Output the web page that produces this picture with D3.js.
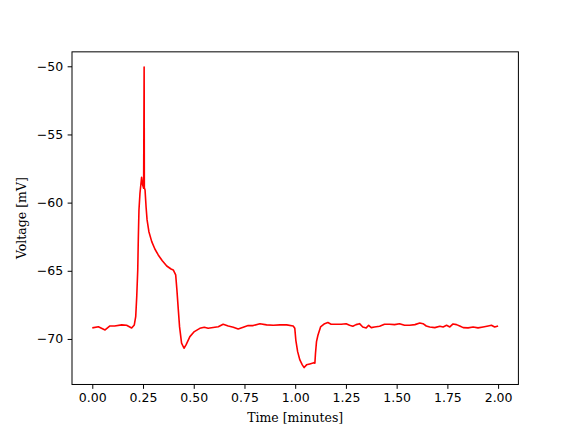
<!DOCTYPE html>
<html>
<head>
<meta charset="utf-8">
<script src="https://cdn.jsdelivr.net/npm/d3@7"></script>
<style>
  html, body { margin: 0; padding: 0; background: #fff; }
  svg { display: block; }
</style>
</head>
<body>
<svg id="chart" width="576" height="432"></svg>
<script>
// Time (minutes) and membrane voltage (mV)
const timeMin = [
  0.000, 0.030, 0.063, 0.087, 0.110, 0.145, 0.169, 0.194, 0.207, 0.214,
  0.219, 0.224, 0.227, 0.230, 0.235, 0.240, 0.243, 0.248, 0.253, 0.2555,
  0.2565, 0.260, 0.265, 0.270, 0.279, 0.293, 0.309, 0.325, 0.345, 0.367,
  0.388, 0.399, 0.411, 0.417, 0.424, 0.430, 0.440, 0.452, 0.462, 0.481,
  0.503, 0.530, 0.552, 0.571, 0.604, 0.621, 0.645, 0.670, 0.695, 0.719,
  0.744, 0.768, 0.793, 0.826, 0.859, 0.892, 0.925, 0.958, 0.990, 0.998,
  1.003, 1.012, 1.023, 1.035, 1.044, 1.056, 1.072, 1.092, 1.097, 1.100,
  1.105, 1.112, 1.125, 1.145, 1.161, 1.177, 1.202, 1.227, 1.251, 1.268,
  1.284, 1.300, 1.317, 1.333, 1.350, 1.362, 1.375, 1.391, 1.416, 1.440,
  1.465, 1.490, 1.514, 1.539, 1.564, 1.590, 1.614, 1.630, 1.646, 1.663,
  1.688, 1.713, 1.729, 1.746, 1.762, 1.778, 1.795, 1.811, 1.828, 1.852,
  1.877, 1.901, 1.926, 1.951, 1.967, 1.983, 2.000
];
const voltageMV = [
  -69.19, -69.10, -69.34, -69.05, -69.05, -68.97, -69.00, -69.20, -68.97, -68.36,
  -66.90, -64.94, -62.50, -60.54, -59.31, -58.58, -58.14, -58.70, -58.95, -50.05,
  -58.90, -59.07, -60.30, -61.27, -62.13, -62.86, -63.42, -63.84, -64.26, -64.65,
  -64.87, -64.94, -65.30, -66.40, -67.87, -69.10, -70.30, -70.68, -70.44, -69.83,
  -69.46, -69.22, -69.14, -69.22, -69.14, -69.10, -68.92, -69.05, -69.14, -69.27,
  -69.14, -69.02, -69.02, -68.88, -68.97, -69.00, -68.97, -68.97, -69.05, -69.22,
  -70.08, -70.93, -71.54, -71.90, -72.10, -71.90, -71.83, -71.74, -71.78, -71.05,
  -70.20, -69.73, -69.12, -68.88, -68.80, -68.92, -68.92, -68.92, -68.88, -69.00,
  -69.07, -68.95, -68.88, -69.12, -69.19, -69.00, -69.17, -69.12, -69.07, -68.92,
  -68.92, -68.95, -68.88, -69.00, -69.00, -68.95, -68.83, -68.88, -69.05, -69.12,
  -69.17, -69.07, -69.12, -69.00, -69.12, -68.90, -68.95, -69.05, -69.17, -69.19,
  -69.12, -69.19, -69.12, -69.05, -69.00, -69.12, -69.05
];
const xTicks = [0, 0.25, 0.5, 0.75, 1.0, 1.25, 1.5, 1.75, 2.0];
const yTicks = [-70, -65, -60, -55, -50];
const xLabel = "Time [minutes]";
const yLabel = "Voltage [mV]";

(function () {
const mLeft = 72, mRight = 518.4, mTop = 51.84, mBottom = 384.48;
const fs = "12.5px";

const svg = d3.select("#chart");

const x = d3.scaleLinear().domain([-0.1, 2.1]).range([mLeft, mRight]);
const y = d3.scaleLinear().domain([-73.34, -48.94]).range([mBottom, mTop]);

const data = timeMin.map((t, i) => ({ t, v: voltageMV[i] }));

svg.append("clipPath").attr("id", "plotclip")
  .append("rect").attr("x", mLeft).attr("y", mTop)
  .attr("width", mRight - mLeft).attr("height", mBottom - mTop);

svg.append("path")
  .datum(data)
  .attr("clip-path", "url(#plotclip)")
  .attr("fill", "none")
  .attr("stroke", "#ff0000")
  .attr("stroke-width", 1.6)
  .attr("stroke-linejoin", "round")
  .attr("d", d3.line().x(d => x(d.t)).y(d => y(d.v)));

const fmtX = d3.format(".2f");
const xAxis = d3.axisBottom(x).tickValues(xTicks).tickFormat(fmtX)
  .tickSizeInner(4.375).tickSizeOuter(0).tickPadding(4.375);
const yAxis = d3.axisLeft(y).tickValues(yTicks).tickFormat(d => (d < 0 ? "\u2212" + Math.abs(d) : d))
  .tickSizeInner(4.375).tickSizeOuter(0).tickPadding(4.375);

const gx = svg.append("g").attr("transform", `translate(0,${mBottom})`).call(xAxis);
const gy = svg.append("g").attr("transform", `translate(${mLeft},0)`).call(yAxis);

[gx, gy].forEach(g => {
  g.select(".domain").remove();
  g.selectAll(".tick line").attr("stroke", "#000").attr("stroke-width", 1);
  g.selectAll(".tick text").attr("fill", "#000")
    .style("font-family", "'DejaVu Sans', sans-serif").style("font-size", fs);
});

svg.append("rect")
  .attr("x", mLeft).attr("y", mTop)
  .attr("width", mRight - mLeft).attr("height", mBottom - mTop)
  .attr("fill", "none").attr("stroke", "#000").attr("stroke-width", 1);

svg.append("text")
  .attr("x", (mLeft + mRight) / 2).attr("y", 422)
  .attr("text-anchor", "middle")
  .style("font-family", "'DejaVu Serif', serif").style("font-size", fs)
  .text(xLabel);

svg.append("text")
  .attr("transform", `translate(25.5,${(mTop + mBottom) / 2}) rotate(-90)`)
  .attr("text-anchor", "middle")
  .style("font-family", "'DejaVu Serif', serif").style("font-size", fs)
  .text(yLabel);
})();
</script>
</body>
</html>
